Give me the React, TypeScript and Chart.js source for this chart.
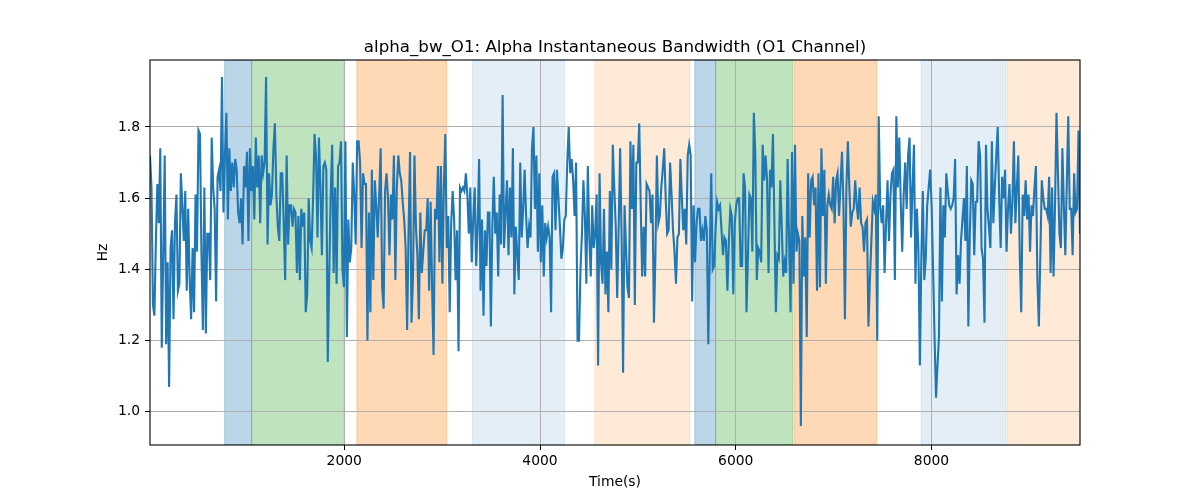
import { useEffect, useRef } from "react"
import { Chart, registerables } from "chart.js"
import type { Plugin } from "chart.js"

Chart.register(...registerables)

const FONT = "DejaVu Sans"

const TITLE = "alpha_bw_O1: Alpha Instantaneous Bandwidth (O1 Channel)"
const X_LABEL = "Time(s)"
const Y_LABEL = "Hz"

// time span of the sampled signal (seconds)
const T_START = 15
const T_END = 9517

const X_TICKS = [2000, 4000, 6000, 8000]
const Y_TICKS = [1.0, 1.2, 1.4, 1.6, 1.8]
const Y_MIN = 0.907
const Y_MAX = 1.988

// shaded segments
const BAND_STARTS = [778, 1054, 2129, 3309, 4560, 5582, 5794, 6595, 7894, 8774]
const BAND_ENDS = [1054, 2000, 3046, 4250, 5531, 5794, 6582, 7441, 8760, 9600]
const BAND_COLORS = [
  "rgba(31,119,180,0.3)",
  "rgba(44,160,44,0.3)",
  "rgba(255,127,14,0.3)",
  "rgba(31,119,180,0.12)",
  "rgba(255,127,14,0.16)",
  "rgba(31,119,180,0.3)",
  "rgba(44,160,44,0.3)",
  "rgba(255,127,14,0.3)",
  "rgba(31,119,180,0.12)",
  "rgba(255,127,14,0.16)",
]

// instantaneous bandwidth values, read in order from left to right
const HZ_PART_1 = [
  1.72, 1.63, 1.3, 1.27, 1.48, 1.64, 1.53, 1.74, 1.18, 1.44,
  1.72, 1.19, 1.42, 1.07, 1.46, 1.51, 1.26, 1.53, 1.61, 1.34,
  1.36, 1.67, 1.58, 1.48, 1.62, 1.34, 1.57, 1.37, 1.26, 1.46,
  1.28, 1.61, 1.45, 1.79, 1.78, 1.45, 1.23, 1.63, 1.22, 1.5,
  1.5, 1.37, 1.77, 1.63, 1.57, 1.31, 1.66, 1.68, 1.62, 1.94,
  1.56, 1.72, 1.84, 1.54, 1.74, 1.62, 1.7, 1.63, 1.71, 1.68,
  1.56, 1.53, 1.6, 1.47, 1.69, 1.63, 1.73, 1.48, 1.74, 1.62,
  1.69, 1.54, 1.77, 1.63, 1.72, 1.53, 1.72, 1.67, 1.7, 1.94,
  1.47, 1.67, 1.58, 1.61, 1.74, 1.81, 1.61, 1.52, 1.48, 1.67,
  1.67, 1.53, 1.37, 1.72, 1.47, 1.58, 1.58, 1.52, 1.57, 1.56,
  1.39, 1.55, 1.37, 1.57, 1.52, 1.56, 1.28,
]
const HZ_PART_2 = [
  1.33, 1.6, 1.48, 1.46, 1.6, 1.78, 1.72, 1.49, 1.77, 1.63,
  1.44, 1.69, 1.7, 1.68, 1.14, 1.39, 1.61, 1.75, 1.39, 1.63,
  1.36, 1.69, 1.7, 1.76, 1.4, 1.35, 1.76, 1.21, 1.54, 1.42,
  1.46, 1.7, 1.61, 1.47, 1.76, 1.76, 1.7, 1.46, 1.67, 1.64,
  1.64, 1.2, 1.56, 1.28, 1.68, 1.37, 1.65, 1.58, 1.49, 1.61,
  1.74, 1.35, 1.29, 1.62, 1.67, 1.6, 1.44, 1.61, 1.54, 1.72,
  1.37, 1.63, 1.72, 1.67, 1.65, 1.59, 1.54, 1.46, 1.23, 1.51,
  1.73, 1.25, 1.38, 1.72, 1.52, 1.44, 1.26, 1.56, 1.39, 1.45,
  1.51, 1.51, 1.6, 1.34, 1.59, 1.35, 1.16, 1.57, 1.54, 1.69,
  1.42, 1.69, 1.36, 1.63, 1.78, 1.46, 1.55, 1.28, 1.53, 1.62,
  1.54, 1.37, 1.51, 1.17, 1.63, 1.62, 1.63, 1.62, 1.67, 1.61,
]
const HZ_PART_3 = [
  1.5, 1.63, 1.42, 1.54, 1.63, 1.41, 1.52, 1.71, 1.34, 1.54,
  1.27, 1.51, 1.41, 1.56, 1.56, 1.24, 1.52, 1.66, 1.5, 1.56,
  1.38, 1.61, 1.47, 1.89, 1.46, 1.56, 1.65, 1.44, 1.63, 1.49,
  1.74, 1.33, 1.52, 1.44, 1.37, 1.7, 1.49, 1.57, 1.68, 1.55,
  1.46, 1.52, 1.49, 1.74, 1.8, 1.57, 1.72, 1.45, 1.67, 1.42,
  1.58, 1.38, 1.53, 1.49, 1.52, 1.49, 1.28, 1.66, 1.67, 1.51,
  1.68, 1.6, 1.52, 1.43, 1.46, 1.54, 1.55, 1.7, 1.8, 1.67,
  1.71, 1.65, 1.55, 1.7, 1.2, 1.2, 1.4, 1.5, 1.65, 1.55,
  1.36, 1.69, 1.49, 1.38, 1.58, 1.46, 1.5, 1.61, 1.13, 1.67,
  1.42, 1.36, 1.57, 1.33, 1.45, 1.28, 1.62, 1.4, 1.75, 1.63,
  1.52, 1.32, 1.52, 1.74, 1.49, 1.11, 1.58, 1.46, 1.35,
]
const HZ_PART_4 = [
  1.32, 1.76, 1.57, 1.75, 1.3, 1.7, 1.7, 1.81, 1.58, 1.38,
  1.52, 1.38, 1.64, 1.63, 1.62, 1.53, 1.61, 1.25, 1.44, 1.72,
  1.53, 1.55, 1.63, 1.68, 1.74, 1.6, 1.5, 1.51, 1.7, 1.61,
  1.51, 1.45, 1.36, 1.49, 1.5, 1.71, 1.6, 1.51, 1.57, 1.47,
  1.72, 1.75, 1.72, 1.31, 1.58, 1.42, 1.53, 1.57, 1.57, 1.48,
  1.51, 1.48, 1.55, 1.51, 1.19, 1.44, 1.67, 1.4, 1.41, 1.52,
  1.59, 1.57, 1.58, 1.51, 1.44, 1.49, 1.48, 1.34, 1.48, 1.57,
  1.55, 1.33, 1.53, 1.58, 1.6, 1.6, 1.41, 1.41, 1.67, 1.63,
  1.28, 1.44, 1.61, 1.6, 1.45, 1.84, 1.72, 1.37, 1.46, 1.45,
  1.42, 1.75, 1.65, 1.72, 1.65, 1.39, 1.68, 1.63, 1.78, 1.53,
  1.28, 1.44, 1.43, 1.65, 1.52, 1.38, 1.42, 1.39, 1.71, 1.48,
]
const HZ_PART_5 = [
  1.28, 1.73, 1.36, 1.75, 1.45, 1.5, 1.48, 0.96, 1.55, 1.38,
  1.49, 1.21, 1.67, 1.49, 1.65, 1.66, 1.58, 1.63, 1.34, 1.67,
  1.35, 1.74, 1.55, 1.68, 1.36, 1.58, 1.61, 1.58, 1.57, 1.66,
  1.53, 1.65, 1.67, 1.55, 1.64, 1.73, 1.58, 1.26, 1.63, 1.76,
  1.63, 1.52, 1.56, 1.57, 1.65, 1.58, 1.54, 1.63, 1.53, 1.52,
  1.45, 1.53, 1.54, 1.24, 1.37, 1.48, 1.59, 1.57, 1.61, 1.2,
  1.83, 1.58, 1.53, 1.58, 1.39, 1.53, 1.65, 1.48, 1.61, 1.67,
  1.68, 1.37, 1.83, 1.63, 1.77, 1.59, 1.45, 1.61, 1.7, 1.57,
  1.72, 1.77, 1.49, 1.63, 1.75, 1.36, 1.57, 1.46, 1.13, 1.43,
  1.62, 1.37, 1.43, 1.58, 1.63, 1.68, 1.58, 1.4, 1.21,
]
const HZ_PART_6 = [
  1.04, 1.13, 1.21, 1.63, 1.31, 1.58, 1.49, 1.67, 1.62, 1.58,
  1.57, 1.58, 1.6, 1.71, 1.33, 1.44, 1.36, 1.48, 1.54, 1.6,
  1.48, 1.69, 1.24, 1.5, 1.65, 1.64, 1.44, 1.59, 1.59, 1.76,
  1.72, 1.46, 1.43, 1.25, 1.75, 1.57, 1.52, 1.46, 1.76, 1.53,
  1.63, 1.72, 1.8, 1.6, 1.46, 1.66, 1.6, 1.68, 1.45, 1.57,
  1.64, 1.5, 1.59, 1.76, 1.53, 1.63, 1.72, 1.44, 1.28, 1.61,
  1.55, 1.65, 1.54, 1.61, 1.45, 1.58, 1.55, 1.63, 1.69, 1.37,
  1.24, 1.44, 1.65, 1.6, 1.57, 1.57, 1.55, 1.66, 1.39, 1.63,
  1.38, 1.58, 1.84, 1.67, 1.5, 1.46, 1.74, 1.58, 1.44, 1.64,
  1.83, 1.57, 1.57, 1.44, 1.67, 1.56, 1.57, 1.79, 1.5,
]

const HZ = [...HZ_PART_1, ...HZ_PART_2, ...HZ_PART_3, ...HZ_PART_4, ...HZ_PART_5, ...HZ_PART_6]

// shaded spans go under the grid, like matplotlib's axvspan
const bandsPlugin: Plugin<"line"> = {
  id: "bands",
  beforeDraw(chart) {
    const { ctx, chartArea, scales } = chart
    ctx.save()
    ctx.beginPath()
    ctx.rect(chartArea.left, chartArea.top, chartArea.width, chartArea.height)
    ctx.clip()
    BAND_STARTS.forEach((start, i) => {
      const x0 = scales.x.getPixelForValue(start)
      const x1 = scales.x.getPixelForValue(BAND_ENDS[i])
      ctx.fillStyle = BAND_COLORS[i]
      ctx.fillRect(x0, chartArea.top, x1 - x0, chartArea.height)
      ctx.strokeStyle = BAND_COLORS[i]
      ctx.lineWidth = 1
      ctx.strokeRect(x0, chartArea.top, x1 - x0, chartArea.height)
    })
    ctx.restore()
  },
}

// frame, title and axis labels
const decorPlugin: Plugin<"line"> = {
  id: "decor",
  afterDraw(chart) {
    const { ctx, chartArea } = chart
    const midX = (chartArea.left + chartArea.right) / 2
    const midY = (chartArea.top + chartArea.bottom) / 2
    ctx.save()
    ctx.strokeStyle = "#000"
    ctx.lineWidth = 1.1
    ctx.strokeRect(chartArea.left, chartArea.top, chartArea.width, chartArea.height)

    ctx.fillStyle = "#000"
    ctx.textAlign = "center"
    ctx.textBaseline = "alphabetic"
    ctx.font = `16.67px "${FONT}"`
    ctx.fillText(TITLE, midX, chartArea.top - 8.5)

    ctx.font = `13.89px "${FONT}"`
    ctx.fillText(X_LABEL, midX, 485.5)

    ctx.translate(106.5, midY)
    ctx.rotate(-Math.PI / 2)
    ctx.fillText(Y_LABEL, 0, 0)
    ctx.restore()
  },
}

export default function App() {
  const canvasRef = useRef<HTMLCanvasElement>(null)
  const chartRef = useRef<Chart<"line"> | null>(null)

  useEffect(() => {
    if (!canvasRef.current) return
    if (chartRef.current) chartRef.current.destroy()

    const step = (T_END - T_START) / (HZ.length - 1)
    const points = HZ.map((v, i) => ({ x: T_START + i * step, y: v }))

    chartRef.current = new Chart(canvasRef.current, {
      type: "line",
      data: {
        datasets: [
          {
            data: points,
            borderColor: "#1f77b4",
            borderWidth: 2.1,
            pointRadius: 0,
            tension: 0,
            fill: false,
          },
        ],
      },
      options: {
        responsive: false,
        animation: false,
        devicePixelRatio: 1,
        layout: { padding: { top: 60, right: 120, bottom: 0, left: 0 } },
        plugins: {
          legend: { display: false },
          title: { display: false },
          tooltip: { enabled: false },
        },
        scales: {
          x: {
            type: "linear",
            min: T_START,
            max: T_END,
            afterBuildTicks: (scale) => {
              scale.ticks = X_TICKS.map((value) => ({ value }))
            },
            afterFit: (scale) => {
              scale.height = 55
            },
            ticks: {
              color: "#000",
              font: { family: FONT, size: 13.89 },
              padding: 3,
              maxRotation: 0,
              autoSkip: false,
              callback: (value) => String(value),
            },
            grid: {
              color: "#b0b0b0",
              lineWidth: 1,
              tickLength: 5,
              tickColor: "#000",
              tickWidth: 1,
            },
            border: { display: false },
          },
          y: {
            type: "linear",
            min: Y_MIN,
            max: Y_MAX,
            afterBuildTicks: (scale) => {
              scale.ticks = Y_TICKS.map((value) => ({ value }))
            },
            afterFit: (scale) => {
              scale.width = 150
            },
            ticks: {
              color: "#000",
              font: { family: FONT, size: 13.89 },
              padding: 5,
              autoSkip: false,
              callback: (value) => Number(value).toFixed(1),
            },
            grid: {
              color: "#b0b0b0",
              lineWidth: 1,
              tickLength: 5,
              tickColor: "#000",
              tickWidth: 1,
            },
            border: { display: false },
          },
        },
      },
      plugins: [bandsPlugin, decorPlugin],
    })

    return () => {
      if (chartRef.current) {
        chartRef.current.destroy()
        chartRef.current = null
      }
    }
  }, [])

  return (
    <div style={{ position: "absolute", left: 0, top: 0, width: 1200, height: 500, background: "#fff" }}>
      <canvas ref={canvasRef} width={1200} height={500} style={{ width: 1200, height: 500 }} />
    </div>
  )
}
